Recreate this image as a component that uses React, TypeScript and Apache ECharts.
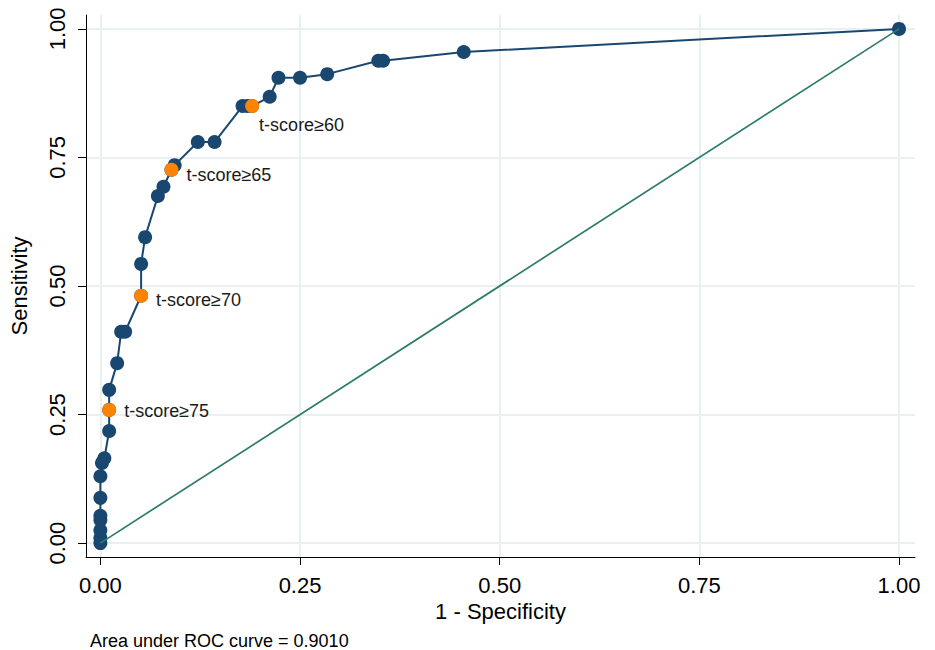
import React, { useEffect, useRef } from "react";
import * as echarts from "echarts";

const fpr = [0, 0, 0, 0, 0, 0, 0, 0.002, 0.005, 0.011, 0.011, 0.011, 0.021, 0.026, 0.031, 0.051, 0.051, 0.056, 0.072, 0.079, 0.089, 0.093, 0.122, 0.143, 0.178, 0.184, 0.19, 0.212, 0.223, 0.25, 0.284, 0.348, 0.354, 0.455, 1];
const tpr = [0, 0.01, 0.025, 0.045, 0.053, 0.088, 0.13, 0.156, 0.165, 0.218, 0.259, 0.298, 0.35, 0.411, 0.411, 0.481, 0.543, 0.595, 0.675, 0.693, 0.726, 0.735, 0.78, 0.78, 0.85, 0.85, 0.85, 0.868, 0.905, 0.905, 0.912, 0.938, 0.938, 0.955, 1];

const cutFpr = [0.011, 0.051, 0.089, 0.19];
const cutTpr = [0.259, 0.481, 0.726, 0.85];
const cutLabels = ["t-score≥75", "t-score≥70", "t-score≥65", "t-score≥60"];

const tickValues = [0, 0.25, 0.5, 0.75, 1];
const tickLabels = ["0.00", "0.25", "0.50", "0.75", "1.00"];
const aucText = "Area under ROC curve = 0.9010";

const FONT = "Liberation Sans, Arial, Helvetica, sans-serif";
const NAVY = "#1a476f";
const TEAL = "#2e7b6b";
const ORANGE = "#ff8200";
const GRID = "#e8f0f2";

export default function App() {
  const ref = useRef<HTMLDivElement>(null);
  useEffect(() => {
    if (!ref.current) return;
    const chart = echarts.init(ref.current, null, { renderer: "svg" });
    const XMIN = -0.018, XMAX = 1.02, YMIN = -0.027, YMAX = 1.027;
    const fmt = (v: number) => {
      const i = tickValues.findIndex((t) => Math.abs(t - v) < 1e-6);
      return i >= 0 ? tickLabels[i] : "";
    };
    const gridLines = [
      ...tickValues.map((v) => ({ xAxis: v })),
      ...tickValues.map((v) => ({ yAxis: v })),
    ];
    const labelOffsets = [[0, 1], [0, 4], [0, 5]];
    chart.setOption({
      animation: false,
      backgroundColor: "#ffffff",
      textStyle: { fontFamily: FONT },
      grid: { left: 84, right: 20, top: 15, bottom: 93 },
      xAxis: {
        type: "value",
        min: XMIN,
        max: XMAX,
        name: "1 - Specificity",
        nameLocation: "middle",
        nameGap: 42,
        nameTextStyle: { fontSize: 22, color: "#000", fontFamily: FONT },
        axisLine: { show: true, onZero: false, lineStyle: { color: "#000", width: 1 } },
        axisTick: { show: true, length: 8, lineStyle: { color: "#000" }, customValues: tickValues },
        axisLabel: { fontSize: 22, color: "#000", margin: 17, customValues: tickValues, formatter: fmt, fontFamily: FONT },
        splitLine: { show: false },
      },
      yAxis: {
        type: "value",
        min: YMIN,
        max: YMAX,
        name: "Sensitivity",
        nameLocation: "middle",
        nameGap: 56,
        nameRotate: 90,
        nameTextStyle: { fontSize: 22, color: "#000", fontFamily: FONT },
        axisLine: { show: true, onZero: false, lineStyle: { color: "#000", width: 1 } },
        axisTick: { show: true, length: 8, lineStyle: { color: "#000" }, customValues: tickValues },
        axisLabel: { fontSize: 22, color: "#000", margin: 18, rotate: 90, customValues: tickValues, formatter: fmt, fontFamily: FONT },
        splitLine: { show: false },
      },
      graphic: [
        {
          type: "text",
          left: 90,
          top: 632,
          style: { text: aucText, fill: "#000", font: `18px ${FONT}` },
        },
      ],
      series: [
        {
          type: "line",
          data: [],
          silent: true,
          z: 0,
          markLine: {
            silent: true,
            symbol: "none",
            z: 0,
            label: { show: false },
            lineStyle: { color: GRID, width: 2, type: "solid" },
            data: gridLines,
          },
        },
        {
          type: "line",
          data: fpr.map((x, i) => [x, tpr[i]]),
          symbol: "circle",
          symbolSize: 14,
          showAllSymbol: true,
          itemStyle: { color: NAVY },
          lineStyle: { color: NAVY, width: 2 },
          z: 4,
        },
        {
          type: "line",
          data: [[0, 0], [1, 1]],
          showSymbol: false,
          lineStyle: { color: TEAL, width: 1.7 },
          z: 5,
        },
        {
          type: "scatter",
          data: cutFpr.map((x, i) => ({
            value: [x, cutTpr[i]],
            label:
              i === 3
                ? { show: true, position: [14, 17], align: "left", verticalAlign: "top" }
                : { show: true, position: "right", distance: 8, offset: labelOffsets[i] },
          })),
          symbolSize: 14,
          itemStyle: { color: ORANGE, opacity: 1 },
          label: {
            show: true,
            formatter: (p: any) => cutLabels[p.dataIndex],
            fontSize: 18,
            color: "#1a1a1a",
            fontFamily: FONT,
          },
          z: 6,
        },
      ],
    });
    return () => chart.dispose();
  }, []);
  return <div ref={ref} style={{ width: 935, height: 650, position: "absolute", left: 0, top: 0 }} />;
}
